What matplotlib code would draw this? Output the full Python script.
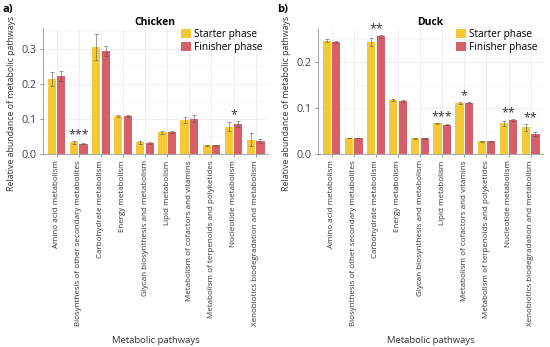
import matplotlib
matplotlib.use("Agg")
import matplotlib.pyplot as plt
import numpy as np

plt.rcParams['font.family'] = ['Open Sans', 'DejaVu Sans']

categories = ["Amino acid metabolism",
              "Biosynthesis of other secondary metabolites",
              "Carbohydrate metabolism",
              "Energy metabolism",
              "Glycan biosynthesis and metabolism",
              "Lipid metabolism",
              "Metabolism of cofactors and vitamins",
              "Metabolism of terpenoids and polyketides",
              "Nucleotide metabolism",
              "Xenobiotics biodegradation and metabolism"]

chicken_starter = [0.213, 0.033, 0.303, 0.108, 0.033, 0.062, 0.097, 0.025, 0.078, 0.041]
chicken_starter_err = [0.020, 0.003, 0.037, 0.004, 0.003, 0.004, 0.009, 0.001, 0.012, 0.019]
chicken_finisher = [0.222, 0.030, 0.294, 0.107, 0.032, 0.063, 0.101, 0.025, 0.085, 0.037]
chicken_finisher_err = [0.013, 0.002, 0.014, 0.003, 0.003, 0.002, 0.009, 0.001, 0.008, 0.006]
chicken_sig = ["", "***", "", "", "", "", "", "", "*", ""]

duck_starter = [0.247, 0.035, 0.243, 0.117, 0.034, 0.067, 0.111, 0.028, 0.067, 0.058]
duck_starter_err = [0.004, 0.001, 0.009, 0.002, 0.002, 0.001, 0.002, 0.001, 0.005, 0.008]
duck_finisher = [0.244, 0.035, 0.256, 0.115, 0.034, 0.064, 0.112, 0.028, 0.074, 0.044]
duck_finisher_err = [0.002, 0.001, 0.004, 0.002, 0.001, 0.001, 0.002, 0.001, 0.002, 0.005]
duck_sig = ["", "", "**", "", "", "***", "*", "", "**", "**"]

series_names = ["Starter phase", "Finisher phase"]
colors = ["#F5C935", "#D65F69"]

fig = plt.figure(figsize=(5.5, 3.47), dpi=100)
axA = fig.add_axes([0.078, 0.556, 0.409, 0.363])
axB = fig.add_axes([0.578, 0.556, 0.409, 0.363])

def draw(ax, s, se, f, fe, sig, title, ymax, yticks, sig_off):
    x = np.arange(len(categories))
    w = 0.37
    d = 0.215
    ax.set_axisbelow(True)
    ax.bar(x - d, s, w, color=colors[0], label=series_names[0], zorder=2)
    ax.bar(x + d, f, w, color=colors[1], label=series_names[1], zorder=2)
    ekw = dict(fmt='none', ecolor='#555555', elinewidth=0.5, capsize=1.2, capthick=0.5, zorder=3, alpha=0.8)
    ax.errorbar(x - d, s, yerr=se, **ekw)
    ax.errorbar(x + d, f, yerr=fe, **ekw)
    for i, t in enumerate(sig):
        if t:
            top = max(s[i] + se[i], f[i] + fe[i])
            ax.text(x[i], top + sig_off, t, ha='center', va='bottom',
                    fontsize=9, color='#333333')
    ax.set_xlim(-0.62, 9.55)
    ax.set_ylim(0, ymax)
    ax.set_yticks(yticks)
    ax.set_yticklabels([f"{v:.1f}" for v in yticks], fontsize=7.8, color='#444444')
    ax.set_yticks(np.arange(0.05, ymax, 0.1), minor=True)
    ax.set_xticks(x)
    ax.set_xticklabels(categories, rotation=90, fontsize=5.8, color='#333333')
    ax.grid(True, which='major', axis='both', color='#ececec', linewidth=0.6)
    ax.grid(True, which='minor', axis='y', color='#f4f4f4', linewidth=0.5)
    ax.tick_params(axis='y', which='minor', length=0)
    ax.tick_params(axis='both', which='major', length=2.5, width=0.6, color='#888888', pad=2)
    for sp in ['top', 'right']:
        ax.spines[sp].set_visible(False)
    for sp in ['left', 'bottom']:
        ax.spines[sp].set_color('#999999')
        ax.spines[sp].set_linewidth(0.6)
    ax.set_title(title, fontsize=7.5, fontweight='bold', pad=2)
    ax.set_ylabel("Relative abundance of metabolic pathways", fontsize=6.3, color='#333333')
    ax.yaxis.set_label_coords(-0.12, 0.4)
    ax.set_xlabel("Metabolic pathways", fontsize=6.8, color='#333333', labelpad=7)
    ax.legend(loc='upper right', frameon=False, fontsize=7.2, handlelength=1.0,
              handleheight=1.0, handletextpad=0.3, labelspacing=0.15,
              borderaxespad=0.1, bbox_to_anchor=(1.0, 1.03))

draw(axA, chicken_starter, chicken_starter_err, chicken_finisher, chicken_finisher_err,
     chicken_sig, "Chicken", 0.358, [0.0, 0.1, 0.2, 0.3], -0.001)
draw(axB, duck_starter, duck_starter_err, duck_finisher, duck_finisher_err,
     duck_sig, "Duck", 0.274, [0.0, 0.1, 0.2], -0.001)

fig.text(0.004, 0.972, "a)", fontsize=8, fontweight='bold', va='center')
fig.text(0.504, 0.972, "b)", fontsize=8, fontweight='bold', va='center')

fig.savefig("out.png", dpi=100)
